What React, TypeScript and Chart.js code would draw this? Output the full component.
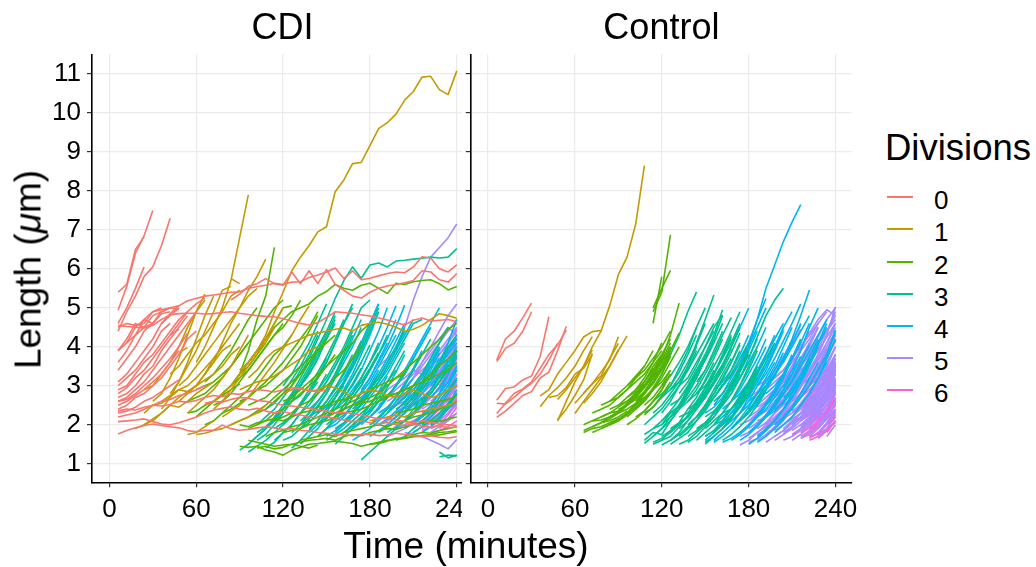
import React, { useEffect, useRef } from "react";
import { Chart, registerables } from "chart.js";

Chart.register(...registerables);

// ---------- scale / label data ----------
const STEP = 6; // minutes between frames
const X_MIN = -12;
const X_MAX = 251;
const Y_MIN = 0.523;
const Y_MAX = 11.505;
const X_TICKS = [0, 60, 120, 180, 240];
const Y_TICKS = [1, 2, 3, 4, 5, 6, 7, 8, 9, 10, 11];
const DIVISIONS = ["0", "1", "2", "3", "4", "5", "6"];
const COLORS = ["#F8766D", "#C49A00", "#53B400", "#00C094", "#00B6EB", "#A58AFF", "#FB61D7"];
const PANELS = ["CDI", "Control"];
const FONT = '"Liberation Sans", Arial, Helvetica, sans-serif';

// Each track: [start time (min), length at start, length 6 min later, ...]
// ---------- CDI ----------
const cdiDiv0: number[][] = [
  [36, 4.6, 4.85, 5.05, 5.18, 5.24, 5.3, 5.33, 5.36, 5.4, 5.41, 5.5, 5.54, 5.58, 5.63, 5.6, 5.66, 5.67, 5.78, 5.84, 5.92, 6.02, 5.75, 5.95, 5.72, 5.76, 5.82, 5.88, 5.92, 5.9, 6.05, 6.31, 6.28, 6.0, 5.92, 6.1],
  [84, 5.2, 5.35, 5.55, 5.62, 5.75, 5.62, 5.58, 5.92, 5.62, 5.95, 5.62, 5.98, 5.6, 5.45, 5.3, 5.25, 5.4, 5.5, 5.56, 5.6, 5.64, 5.7, 5.95, 5.92, 5.72, 5.66, 5.88],
  [6, 4.55, 4.52, 4.5, 4.48, 4.55, 4.7, 4.82, 4.85, 4.86, 4.86, 4.84, 4.85, 4.88, 4.9, 4.86, 4.83, 4.8, 4.78, 4.77, 4.72, 4.66, 4.6, 4.56, 4.62, 4.75, 4.9, 4.88, 4.86, 4.82, 4.79, 4.74, 4.69, 4.62, 4.56, 4.68, 4.74, 4.66, 4.68, 4.7, 4.64],
  [6, 1.76, 1.85, 1.92, 1.98, 2.02, 1.98, 1.95, 1.92, 1.85, 1.82, 1.86, 1.86, 1.99, 1.9, 1.86, 1.88, 1.92, 1.95, 1.92, 1.88, 1.9, 1.86, 1.84, 1.8, 1.78, 1.76, 1.74, 1.72, 1.75, 1.76, 1.72, 1.74, 1.78, 1.75, 1.72, 1.7, 1.72, 1.68, 1.66, 1.69],
  [6, 2.08, 2.1, 2.12, 2.15, 2.08, 2.02, 2.0, 2.05, 2.12, 2.2, 2.3, 2.38, 2.42, 2.46, 2.4, 2.38, 2.42, 2.35, 2.3, 2.34, 2.28, 2.25, 2.2, 2.18, 2.22, 2.15, 2.12, 2.08, 2.1, 2.05, 2.02, 2.06, 2.0, 1.98, 2.02, 1.96, 1.94, 1.98, 1.92, 1.95],
  [6, 2.35, 2.4, 2.38, 2.45, 2.5, 2.48, 2.52, 2.6, 2.58, 2.62, 2.7, 2.75, 2.72, 2.8, 2.78, 2.85, 2.9, 2.88, 2.84, 2.9, 2.95, 2.92, 2.88, 2.85, 2.9],
  [66, 2.55, 2.6, 2.58, 2.65, 2.7, 2.68, 2.62, 2.6, 2.55, 2.5, 2.48, 2.45, 2.42, 2.38, 2.35, 2.3, 2.32, 2.28, 2.25, 2.2, 2.15, 2.18, 2.12, 2.08, 2.05, 2.1, 2.06, 2.02, 2.0, 1.98],
  [6, 4.94, 5.55, 6.4, 6.85, 7.5],
  [6, 5.4, 5.6, 6.5, 6.82],
  [6, 4.4, 4.9, 5.3, 5.8, 6.05, 6.6, 7.3],
  [6, 4.6, 5.0, 5.5, 6.05],
  [6, 3.9, 4.2, 4.6, 4.5, 4.8, 4.9, 5.0],
  [6, 3.6, 3.9, 4.3, 4.7, 4.9, 4.95, 5.0, 5.05],
  [6, 3.4, 3.7, 4.0, 4.4, 4.6, 4.85, 4.9],
  [6, 3.1, 3.3, 3.6, 3.9, 4.2, 4.6, 4.8, 5.0],
  [6, 2.9, 3.0, 3.3, 3.6, 3.8, 4.1, 4.4, 4.7, 4.9],
  [6, 2.7, 2.8, 3.0, 3.3, 3.5, 3.9, 4.2, 4.5, 4.8],
  [6, 2.6, 2.7, 2.9, 3.1, 3.4, 3.7, 4.0, 4.3, 4.6, 4.9],
  [6, 2.5, 2.6, 2.75, 2.9, 3.1, 3.3, 3.6, 3.9],
  [6, 2.4, 2.5, 2.7, 2.8, 3.0, 3.2, 3.5, 3.8, 4.2, 4.4],
  [6, 2.3, 2.35, 2.45, 2.6, 2.7, 2.85, 3.0, 3.15],
  [6, 2.6, 2.65, 2.8, 3.0, 3.2, 3.45, 3.7, 4.0, 4.35],
  [6, 3.0, 3.2, 3.4, 3.7, 4.0, 4.4, 4.6],
  [6, 3.9, 4.1, 4.5, 4.7, 4.6, 4.9, 5.0, 4.95],
  [12, 4.1, 4.3, 4.5, 4.6, 4.9],
  [6, 4.5, 4.6, 4.55, 4.6, 4.9, 5.0],
  [6, 2.8, 2.95, 3.2, 3.4, 3.7, 4.0, 4.3, 4.6, 4.9, 5.1, 5.25],
  [6, 2.2, 2.25, 2.3, 2.4, 2.5, 2.6, 2.65, 2.75, 2.8, 2.9, 3.0],
  [42, 4.3, 4.45],
];
const cdiDiv1: number[][] = [
  [90, 3.4, 3.6, 3.9, 4.3, 4.9, 5.4, 5.95, 6.3, 6.6, 6.95, 7.08, 7.98, 8.28, 8.7, 8.73, 9.16, 9.6, 9.75, 9.97, 10.33, 10.55, 10.92, 10.94, 10.6, 10.47, 11.08],
  [60, 3.6, 4.0, 4.5, 5.0, 5.7, 6.8, 7.9],
  [84, 5.75, 5.62],
  [66, 3.3, 3.6, 4.1, 4.6, 5.0, 5.45, 5.8, 6.25],
  [96, 3.2, 3.4, 3.7, 3.9, 4.0, 4.1, 4.2, 4.3, 4.35, 4.4, 4.45, 4.48, 4.4, 4.55, 4.6, 4.63, 4.58, 4.5, 4.4, 4.45, 4.55, 4.7, 4.85, 4.8, 4.73],
  [18, 1.9, 2.0, 2.15, 2.3, 2.5, 2.7, 2.85, 3.0, 3.3, 3.6, 3.9, 4.05],
  [24, 2.0, 2.1, 2.3, 2.5, 2.45, 2.6, 2.8, 2.95, 3.1],
  [24, 2.3, 2.5, 2.55, 2.7, 2.9, 3.0, 3.2, 3.45, 3.7, 4.0],
  [36, 2.4, 2.7, 3.1, 3.6, 4.2, 4.8, 5.3],
  [30, 2.6, 2.8, 3.2, 3.7, 4.3, 4.9, 5.35],
  [42, 2.8, 3.1, 3.5, 3.9, 4.4, 4.9, 5.45, 5.55],
  [24, 2.9, 3.0, 3.3, 3.6, 4.0, 4.5, 4.9, 5.2],
  [48, 2.6, 2.8, 3.0, 3.3, 3.7, 4.0, 4.3, 4.6],
  [54, 2.3, 2.5, 2.7, 2.9, 3.2, 3.5, 3.9, 4.3],
  [60, 1.75, 1.78, 1.85, 1.9, 2.0, 2.1, 2.2, 2.3, 2.5],
  [54, 1.75, 1.8, 1.95, 2.1],
  [36, 2.6, 2.75, 2.9, 2.85, 3.0, 3.15, 3.3, 3.5, 3.8, 4.0],
  [66, 2.5, 2.6, 2.8, 3.0, 3.3, 3.6, 3.9, 4.1, 4.5],
  [72, 2.4, 2.6, 2.9, 3.2, 3.5, 3.8, 4.2, 4.6, 5.0],
  [78, 2.2, 2.35, 2.5, 2.7, 3.0, 3.3, 3.6, 3.95, 4.3, 4.7, 5.05],
  [90, 2.9, 3.0, 3.1, 3.15, 3.25, 3.4, 3.55, 3.7, 3.9, 4.0],
  [120, 2.8, 2.9, 2.95, 2.85, 2.9, 3.0, 2.95, 2.85, 2.7, 2.8, 2.9, 2.85, 2.75, 2.7, 2.8, 2.9, 2.8, 2.7, 2.75, 2.9, 3.0],
  [180, 2.1, 2.15, 2.2, 2.25, 2.2, 2.3, 2.35, 2.4, 2.45, 2.5, 2.6],
  [42, 3.3, 3.5, 3.8, 4.1, 4.3, 4.6, 4.9, 5.3, 5.45],
  [48, 3.85, 3.98],
  [48, 3.0, 3.2, 3.5, 3.8, 4.1, 4.4, 4.7, 5.0, 5.3, 5.5],
];
const cdiDiv2: number[][] = [
  [90, 3.3, 3.9, 4.7, 5.3, 6.55],
  [96, 3.6, 3.9, 4.2, 4.5, 4.7, 4.9, 5.0, 5.1, 5.3, 5.42, 5.6, 5.5, 5.45, 5.58, 5.63, 5.5, 5.37, 5.63, 5.6, 5.67, 5.7, 5.72, 5.62, 5.46, 5.55],
  [90, 1.45, 1.42, 1.45, 1.35, 1.3, 1.22, 1.35, 1.42, 1.5, 1.52, 1.55, 1.58, 1.55, 1.52, 1.45, 1.5, 1.52, 1.58, 1.65, 1.66, 1.69, 1.7, 1.72, 1.74, 1.78, 1.82],
  [96, 1.6, 1.55, 1.5, 1.45, 1.48, 1.5, 1.55, 1.6, 1.62, 1.65, 1.6, 1.7, 1.75, 1.72, 1.8, 1.85, 1.9, 1.88, 1.95, 2.0, 2.05, 2.1, 2.08, 2.15, 2.2],
  [102, 1.4, 1.45, 1.38, 1.42, 1.5, 1.45, 1.4, 1.48],
  [54, 2.6, 2.7, 2.8, 3.0, 3.2, 3.5, 3.8, 4.1],
  [60, 2.2, 2.4, 2.6, 2.8, 3.0, 3.3, 3.5, 3.8, 4.1],
  [66, 2.0, 2.1, 2.3, 2.5, 2.7, 2.9, 3.2, 3.5, 3.8, 4.0, 4.3],
  [72, 2.5, 2.6, 2.8, 3.1, 3.4, 3.7, 4.0, 4.3, 4.6],
  [78, 2.3, 2.4, 2.55, 2.7, 2.9, 3.1, 3.35, 3.6, 3.9, 4.2, 4.5, 4.9],
  [84, 2.0, 2.1, 2.2, 2.35, 2.5, 2.7, 2.9, 3.1, 3.3, 3.6],
  [90, 2.6, 2.7, 2.9, 3.0, 3.2, 3.4, 3.7, 4.0, 4.4, 4.8],
  [96, 1.9, 2.0, 2.1, 2.3, 2.4, 2.6, 2.8, 3.0, 3.2, 3.5, 3.8],
  [102, 2.3, 2.4, 2.6, 2.8, 3.0, 3.3, 3.6, 3.9, 4.2],
  [108, 1.7, 1.8, 1.85, 1.95, 2.0, 2.1, 2.2, 2.3, 2.4, 2.5, 2.6, 2.7],
  [114, 2.1, 2.2, 2.3, 2.5, 2.6, 2.8, 3.0, 3.2, 3.4, 3.7, 4.0],
  [120, 1.8, 1.85, 1.9, 2.0, 2.05, 2.1, 2.2, 2.3, 2.35, 2.4, 2.5, 2.6, 2.7, 2.8, 2.9, 3.0, 3.1, 3.3, 3.5, 3.7, 3.9],
  [60, 2.9, 3.0, 3.1, 3.3, 3.5, 3.8, 4.1, 4.4, 4.7, 5.0, 5.2],
  [66, 3.1, 3.3, 3.6, 3.9, 4.3, 4.7, 5.0],
  [78, 2.8, 3.0, 3.3, 3.6, 3.9, 4.2, 4.6, 5.0, 5.05],
  [150, 2.2, 2.3, 2.4, 2.5, 2.55, 2.6, 2.7, 2.75, 2.8, 2.9, 3.0, 3.1, 3.2, 3.3, 3.4, 3.6],
  [162, 2.4, 2.5, 2.6, 2.7, 2.8, 3.0, 3.2, 3.4, 3.6, 3.8, 4.0, 4.2, 4.45, 4.6],
  [132, 1.6, 1.65, 1.7, 1.75, 1.7, 1.8, 1.85, 1.9, 1.95, 2.0, 1.95, 2.05, 2.1, 2.2, 2.25, 2.3, 2.4, 2.5, 2.6],
  [90, 2.0, 1.95, 2.05, 2.1, 2.15, 2.1, 2.2, 2.3, 2.35, 2.45, 2.5, 2.6, 2.65, 2.7, 2.8, 2.9, 3.0, 3.1, 3.2, 3.3],
  [180, 1.5, 1.55, 1.6, 1.62, 1.65, 1.7, 1.72, 1.75, 1.8, 1.82, 1.85],
  [54, 2.3, 2.35, 2.5, 2.6, 2.75, 2.9, 3.05],
  [84, 3.0, 3.2, 3.4, 3.7, 4.0, 4.3, 4.5, 4.8, 5.2],
  [96, 2.5, 2.6, 2.7, 2.9, 3.1, 3.3, 3.5, 3.7, 3.9, 4.1, 4.3],
  [120, 2.6, 2.7, 2.9, 3.1, 3.3, 3.5, 3.7, 3.9, 4.1, 4.4, 4.6],
  [198, 2.3, 2.35, 2.4, 2.5, 2.55, 2.6, 2.65, 2.75],
  [204, 1.7, 1.75, 1.8, 1.78, 1.85, 1.9, 1.95],
];
const cdiDiv3: number[][] = [
  [132, 3.3, 3.7, 4.2, 4.7, 5.24, 5.7, 6.05, 5.76, 6.1, 6.15, 6.05, 6.2, 6.22, 6.25, 6.27, 6.3, 6.28, 6.3, 6.52],
  [90, 1.35, 1.5, 1.7, 1.9, 2.1, 2.4, 2.7, 3.0, 3.3, 3.7],
  [96, 1.5, 1.7, 1.9, 2.2, 2.5, 2.8, 3.2, 3.6, 4.0, 4.4],
  [102, 1.6, 1.75, 2.0, 2.3, 2.6, 3.0, 3.4, 3.9, 4.4, 4.9],
  [108, 1.9, 2.1, 2.3, 2.6, 3.0, 3.3, 3.7, 4.2, 4.6],
  [108, 1.4, 1.55, 1.8, 2.0, 2.3, 2.6, 2.9, 3.3],
  [114, 2.2, 2.4, 2.7, 3.0, 3.4, 3.8, 4.3, 4.8],
  [114, 1.6, 1.8, 2.0, 2.3, 2.5, 2.8, 3.1, 3.5, 3.9],
  [120, 2.0, 2.2, 2.5, 2.8, 3.2, 3.6, 4.1, 4.6, 5.1],
  [120, 2.5, 2.7, 3.0, 3.3, 3.7, 4.2, 4.7],
  [126, 1.8, 2.0, 2.3, 2.6, 2.9, 3.3, 3.7, 4.1],
  [126, 2.3, 2.5, 2.8, 3.2, 3.6, 4.1, 4.6, 5.0],
  [132, 1.5, 1.7, 1.9, 2.2, 2.5, 2.8, 3.2, 3.6],
  [132, 2.1, 2.3, 2.6, 2.9, 3.3, 3.8, 4.3],
  [138, 1.9, 2.1, 2.4, 2.7, 3.1, 3.5, 3.9, 4.4, 4.9],
  [138, 2.6, 2.8, 3.1, 3.5, 3.9, 4.4],
  [144, 1.7, 1.9, 2.2, 2.5, 2.8, 3.2, 3.6, 4.0],
  [144, 2.3, 2.5, 2.8, 3.1, 3.5, 4.0, 4.5, 5.0],
  [150, 2.0, 2.2, 2.5, 2.8, 3.2, 3.6, 4.1],
  [150, 1.6, 1.75, 1.9, 2.1, 2.3, 2.5, 2.8, 3.1, 3.4],
  [156, 2.2, 2.4, 2.7, 3.0, 3.4, 3.8, 4.3],
  [162, 1.8, 2.0, 2.2, 2.5, 2.8, 3.1, 3.5, 3.9],
  [168, 2.4, 2.6, 2.9, 3.2, 3.6, 4.0, 4.5],
  [174, 1.1, 1.3, 1.5, 1.7, 1.9, 2.1, 2.4, 2.7],
  [180, 2.0, 2.2, 2.4, 2.7, 3.0, 3.4, 3.8, 4.2],
  [186, 1.8, 1.95, 2.1, 2.3, 2.6, 2.9, 3.2, 3.6, 4.0],
  [192, 2.3, 2.5, 2.7, 3.0, 3.3, 3.7, 4.1, 4.5],
  [198, 1.6, 1.7, 1.9, 2.1, 2.3, 2.6, 2.9, 3.2],
  [204, 2.1, 2.3, 2.5, 2.8, 3.1, 3.5, 3.9],
  [210, 1.8, 1.95, 2.1, 2.3, 2.55, 2.8],
  [228, 1.3, 1.15, 1.22],
  [228, 1.18, 1.22, 1.2],
  [216, 2.6, 2.8, 3.1, 3.4, 3.8],
  [102, 2.0, 2.2, 2.4, 2.7, 3.0, 3.4, 3.8, 4.3],
  [96, 1.3, 1.45, 1.6, 1.8, 2.0, 2.25, 2.5, 2.8, 3.1],
  [126, 1.4, 1.6, 1.85, 2.1, 2.4, 2.7, 3.0],
  [156, 1.5, 1.7, 1.9, 2.1, 2.3, 2.6, 2.9],
  [174, 2.6, 2.8, 3.1, 3.4, 3.8, 4.2, 4.6, 4.7],
  [204, 2.5, 2.7, 3.0, 3.3, 3.6, 4.0, 4.3],
  [120, 3.0, 3.3, 3.7, 4.1, 4.6, 5.1],
  [144, 2.9, 3.2, 3.6, 4.0, 4.5, 5.0, 5.2],
  [102, 1.8, 1.95, 2.15, 2.4, 2.75, 3.1, 3.5, 3.95],
  [108, 2.4, 2.55, 2.8, 3.15, 3.5, 3.95, 4.4],
  [114, 1.9, 2.05, 2.25, 2.55, 2.9, 3.25, 3.7],
  [120, 1.6, 1.7, 1.9, 2.15, 2.45, 2.8, 3.2, 3.6],
  [126, 2.6, 2.75, 3.0, 3.35, 3.75, 4.2, 4.7],
  [132, 1.9, 2.05, 2.3, 2.6, 2.95, 3.35, 3.8],
  [138, 2.2, 2.35, 2.6, 2.95, 3.3, 3.7, 4.15],
  [144, 2.0, 2.15, 2.4, 2.7, 3.05, 3.45],
  [150, 2.4, 2.55, 2.85, 3.2, 3.6, 4.05],
  [156, 1.9, 2.05, 2.25, 2.55, 2.9, 3.3],
  [162, 2.6, 2.8, 3.1, 3.45, 3.85],
  [168, 2.0, 2.15, 2.4, 2.7, 3.05],
  [186, 2.6, 2.75, 3.0, 3.3, 3.7],
  [198, 2.4, 2.55, 2.8, 3.1, 3.5],
  [210, 2.5, 2.65, 2.9, 3.2, 3.55],
  [222, 2.0, 2.2, 2.45, 2.8],
];
const cdiDiv4: number[][] = [
  [138, 1.8, 2.0, 2.3, 2.7, 3.1, 3.6, 4.1, 4.6, 5.1],
  [144, 2.0, 2.2, 2.5, 2.9, 3.3, 3.8, 4.3, 4.9],
  [144, 1.7, 1.9, 2.1, 2.4, 2.7, 3.0, 3.4, 3.8],
  [150, 2.2, 2.4, 2.7, 3.0, 3.4, 3.9, 4.4, 5.0],
  [150, 1.9, 2.0, 2.2, 2.5, 2.8, 3.1, 3.5, 3.9, 4.3],
  [156, 2.4, 2.6, 2.9, 3.2, 3.6, 4.0, 4.5, 5.05],
  [156, 1.8, 2.0, 2.2, 2.4, 2.7, 3.0, 3.3, 3.7, 4.1],
  [162, 2.1, 2.3, 2.5, 2.8, 3.1, 3.5, 3.9, 4.3, 4.7],
  [162, 2.6, 2.8, 3.1, 3.4, 3.8, 4.2, 4.7],
  [168, 1.9, 2.05, 2.2, 2.45, 2.7, 3.0, 3.3, 3.7, 4.1],
  [168, 2.3, 2.5, 2.8, 3.1, 3.5, 3.9, 4.4],
  [174, 2.0, 2.2, 2.4, 2.7, 3.0, 3.4, 3.8, 4.2, 4.6, 5.0],
  [174, 2.7, 2.9, 3.2, 3.6, 4.0, 4.4],
  [180, 1.7, 1.85, 2.0, 2.2, 2.45, 2.7, 3.0, 3.3, 3.7],
  [180, 2.2, 2.4, 2.7, 3.0, 3.3, 3.7, 4.1, 4.5],
  [186, 2.0, 2.15, 2.35, 2.6, 2.9, 3.2, 3.6, 4.0],
  [186, 2.5, 2.7, 3.0, 3.3, 3.7, 4.1, 4.5],
  [192, 1.8, 1.95, 2.1, 2.3, 2.55, 2.8, 3.1, 3.5, 3.9],
  [192, 2.3, 2.5, 2.7, 3.0, 3.3, 3.7, 4.1, 4.5],
  [198, 2.1, 2.3, 2.5, 2.8, 3.1, 3.5, 3.9, 4.2],
  [198, 2.6, 2.8, 3.0, 3.3, 3.6, 4.0],
  [204, 1.9, 2.05, 2.25, 2.5, 2.8, 3.1, 3.5],
  [204, 2.4, 2.6, 2.9, 3.2, 3.6, 4.0, 4.2],
  [210, 2.0, 2.2, 2.4, 2.7, 3.0, 3.4],
  [210, 2.7, 2.9, 3.2, 3.5, 3.8, 4.1],
  [216, 2.2, 2.4, 2.7, 3.0, 3.4],
  [216, 1.8, 1.95, 2.15, 2.4, 2.6],
  [222, 2.5, 2.8, 3.1, 3.5],
  [222, 3.0, 3.3, 3.6, 4.0],
  [132, 2.0, 2.2, 2.5, 2.8, 3.2, 3.6, 4.0, 4.5],
  [138, 2.4, 2.6, 2.9, 3.3, 3.7, 4.2, 4.7],
  [150, 2.6, 2.9, 3.2, 3.6, 4.1, 4.6, 5.1],
  [168, 1.6, 1.75, 1.9, 2.1, 2.3, 2.6, 2.9, 3.2],
  [174, 2.9, 3.2, 3.6, 4.0, 4.5, 5.07],
  [228, 2.8, 3.3, 3.9],
  [222, 3.2, 3.6, 4.1, 4.7],
  [144, 2.3, 2.45, 2.7, 3.05, 3.45, 3.9, 4.4],
  [150, 1.7, 1.85, 2.05, 2.3, 2.65, 3.0, 3.4],
  [156, 2.1, 2.25, 2.5, 2.85, 3.2, 3.65, 4.1],
  [162, 1.8, 1.95, 2.2, 2.5, 2.85, 3.25],
  [168, 2.5, 2.65, 2.95, 3.3, 3.7, 4.15, 4.6],
  [174, 2.2, 2.35, 2.6, 2.95, 3.35, 3.8],
  [180, 2.0, 2.15, 2.4, 2.7, 3.05, 3.45, 3.9],
  [186, 2.3, 2.45, 2.7, 3.05, 3.4, 3.85],
  [192, 2.0, 2.2, 2.45, 2.75, 3.1, 3.5, 3.95],
  [198, 2.3, 2.45, 2.7, 3.0, 3.4, 3.85],
  [204, 2.1, 2.3, 2.55, 2.9, 3.25, 3.65],
  [210, 2.4, 2.6, 2.9, 3.25, 3.65],
  [216, 2.0, 2.2, 2.45, 2.8, 3.15],
  [222, 2.7, 2.95, 3.3, 3.75],
  [228, 2.2, 2.5, 2.9],
];
const cdiDiv5: number[][] = [
  [186, 3.5, 3.7, 3.9, 4.5, 5.2, 5.8, 6.3, 6.55, 6.8, 7.15],
  [198, 2.6, 2.9, 3.2, 3.6, 4.0, 4.4, 4.8, 5.1],
  [186, 2.0, 2.1, 2.3, 2.5, 2.7, 2.9, 3.2, 3.5, 3.8, 4.1],
  [192, 2.4, 2.5, 2.7, 2.9, 3.1, 3.3, 3.6, 3.9, 4.2],
  [192, 1.7, 1.8, 1.9, 2.05, 2.2, 2.35, 2.5, 2.7, 2.9],
  [198, 2.2, 2.35, 2.5, 2.7, 2.9, 3.1, 3.4, 3.7],
  [204, 2.8, 3.0, 3.2, 3.5, 3.8, 4.1, 4.4],
  [204, 2.0, 2.1, 2.25, 2.4, 2.6, 2.8, 3.0],
  [204, 1.8, 1.75, 1.7, 1.6, 1.5, 1.38, 1.62],
  [210, 2.3, 2.5, 2.7, 2.9, 3.2, 3.5],
  [210, 2.6, 2.8, 3.0, 3.3, 3.6, 3.9],
  [216, 2.0, 2.15, 2.3, 2.5, 2.75],
  [216, 2.9, 3.1, 3.4, 3.7, 4.0],
  [222, 2.3, 2.5, 2.8, 3.1],
  [222, 1.8, 1.95, 2.1, 2.3],
  [198, 1.9, 2.0, 2.1, 2.2, 2.35, 2.5, 2.6, 2.8],
  [228, 2.6, 2.9, 3.3],
  [186, 2.6, 2.7, 2.9, 3.1, 3.3, 3.6, 3.9, 4.2, 4.5, 4.3],
  [192, 2.9, 3.05, 3.2, 3.4, 3.3, 3.5, 3.7, 3.9, 4.1],
  [210, 3.2, 3.4, 3.6, 3.9, 4.2, 4.5],
  [192, 2.1, 2.2, 2.35, 2.55, 2.8, 3.05, 3.35, 3.65, 3.95],
  [198, 2.5, 2.6, 2.8, 3.05, 3.3, 3.6, 3.95, 4.3],
  [204, 2.2, 2.3, 2.5, 2.7, 2.95, 3.25, 3.55],
  [210, 1.9, 2.05, 2.25, 2.5, 2.75, 3.05],
  [210, 2.8, 2.95, 3.2, 3.5, 3.85, 4.2],
  [216, 2.4, 2.55, 2.8, 3.1, 3.45],
  [222, 2.1, 2.3, 2.55, 2.85],
  [222, 3.2, 3.4, 3.7, 4.05],
  [228, 2.0, 2.25, 2.55],
  [228, 2.9, 3.2, 3.55],
  [186, 2.3, 2.4, 2.55, 2.75, 3.0, 3.25, 3.5, 3.8, 4.1, 4.45],
  [204, 1.7, 1.8, 1.95, 2.1, 2.3, 2.5, 2.75],
  [192, 2.6, 2.75, 2.95, 3.2, 3.5, 3.8, 4.1, 4.4, 4.7],
  [204, 2.5, 2.65, 2.9, 3.2, 3.55, 3.9, 4.25],
  [216, 1.9, 2.05, 2.25, 2.5, 2.8],
  [222, 2.6, 2.8, 3.1, 3.45],
  [198, 2.0, 2.1, 2.25, 2.45, 2.7, 2.95, 3.25, 3.55],
];
const cdiDiv6: number[][] = [
  [216, 2.0, 2.2, 2.4, 2.7, 3.0],
  [222, 2.4, 2.6, 2.9, 3.3],
  [222, 1.9, 2.0, 2.15, 2.3],
  [228, 2.8, 3.2, 3.7],
  [216, 2.6, 2.8, 3.1, 3.4, 3.8],
  [228, 2.2, 2.4, 2.7],
  [234, 3.2, 3.5],
  [222, 1.8, 1.85, 1.95, 2.1],
  [228, 2.5, 2.75, 3.0],
  [216, 2.3, 2.45, 2.6, 2.85, 3.1],
  [216, 2.1, 2.3, 2.55, 2.85, 3.2],
  [222, 2.2, 2.4, 2.7, 3.05],
  [228, 1.9, 2.15, 2.45],
  [222, 2.7, 2.95, 3.3, 3.7],
  [234, 2.3, 2.6],
  [228, 3.0, 3.35, 3.9],
  [216, 2.5, 2.7, 2.95, 3.25, 3.6],
  [222, 2.0, 2.15, 2.4, 2.65],
  [228, 2.4, 2.65, 3.0],
  [216, 1.85, 1.95, 2.1, 2.3, 2.5],
  [234, 2.8, 3.2],
];

// ---------- Control ----------
const ctlDiv0: number[][] = [
  [6, 3.66, 4.2, 4.4, 4.75, 5.12],
  [6, 3.62, 3.96, 4.09, 4.4, 4.9],
  [6, 2.63, 2.93, 2.97, 3.15, 3.25, 3.75, 4.77],
  [6, 2.19, 2.35, 2.55, 2.75, 2.85, 3.2, 3.35, 3.9, 4.52],
  [6, 2.29, 2.55, 2.8, 2.92, 3.1, 3.45, 3.8, 4.05, 4.43],
  [6, 2.55, 2.53, 2.7, 2.9, 3.06, 3.3, 3.66, 4.09],
];
const ctlDiv1: number[][] = [
  [48, 2.1, 2.6, 3.1, 3.5, 4.0, 4.4, 5.05, 5.85, 6.3, 7.15, 8.65],
  [36, 2.74, 2.9, 3.3, 3.6, 3.9, 4.25, 4.39, 4.42],
  [36, 2.46, 2.75, 2.95, 3.2, 3.5, 3.9, 4.26],
  [48, 2.12, 2.4, 2.75, 3.15, 3.83],
  [48, 2.65, 2.9, 3.2, 3.5, 3.92],
  [60, 2.55, 2.8, 3.05, 3.35, 3.66, 4.26],
  [60, 2.29, 2.6, 2.9, 3.2, 3.5, 3.9, 4.28],
  [66, 2.55, 2.8, 3.1, 3.5, 3.92],
  [66, 2.81, 3.05, 3.25, 3.7, 4.09],
  [42, 2.7, 2.75, 2.95, 3.3, 3.45, 3.8],
];
const ctlDiv2: number[][] = [
  [114, 4.6, 5.8],
  [114, 4.9, 5.4, 6.87],
  [114, 5.0, 5.5, 5.96],
  [66, 1.85, 1.95, 2.05, 2.1, 2.2, 2.35],
  [66, 2.0, 2.1, 2.12, 2.2, 2.3],
  [72, 1.8, 1.9, 2.0, 2.1, 2.25, 2.45, 2.7],
  [72, 2.1, 2.2, 2.3, 2.35, 2.5, 2.7, 3.0, 3.3],
  [78, 1.9, 2.0, 2.15, 2.3, 2.5, 2.8, 3.1, 3.5],
  [78, 2.2, 2.3, 2.45, 2.6, 2.8, 3.1, 3.5, 3.8],
  [84, 2.0, 2.1, 2.3, 2.5, 2.8, 3.1, 3.5, 4.0],
  [84, 2.4, 2.5, 2.7, 2.9, 3.2, 3.6, 4.1],
  [90, 2.1, 2.3, 2.55, 2.85, 3.2, 3.65, 4.1],
  [90, 2.5, 2.6, 2.8, 3.0, 3.3, 3.6],
  [96, 2.2, 2.4, 2.6, 2.9, 3.2, 3.6, 4.0],
  [96, 2.7, 2.85, 3.0, 3.2, 3.5, 3.9],
  [102, 2.4, 2.65, 2.95, 3.3, 3.75],
  [102, 2.9, 3.1, 3.4, 3.8, 4.2],
  [90, 2.3, 2.4, 2.55, 2.7, 2.9, 3.1, 3.4],
  [84, 2.6, 2.7, 2.9, 3.1, 3.3, 3.6, 3.9],
  [96, 3.0, 3.2, 3.4, 3.7, 4.0, 4.4],
  [108, 3.0, 3.3, 3.7, 4.3, 5.12],
  [108, 2.8, 3.1, 3.5, 3.9, 4.35],
  [72, 2.3, 2.4, 2.5, 2.7, 2.9, 3.2, 3.5, 3.9],
  [72, 1.95, 2.05, 2.15, 2.3, 2.5, 2.75, 3.05],
  [78, 2.05, 2.2, 2.35, 2.55, 2.8, 3.1, 3.45],
  [84, 2.2, 2.3, 2.5, 2.75, 3.0, 3.35, 3.75],
  [90, 2.4, 2.5, 2.7, 2.95, 3.25, 3.6, 4.0],
  [96, 2.5, 2.65, 2.85, 3.1, 3.45, 3.85],
  [96, 2.0, 2.15, 2.35, 2.6, 2.9, 3.3],
  [102, 2.6, 2.8, 3.05, 3.4, 3.8],
  [102, 2.2, 2.35, 2.6, 2.9, 3.3],
  [108, 2.5, 2.7, 3.0, 3.4],
  [108, 2.25, 2.45, 2.75, 3.1],
  [78, 2.5, 2.6, 2.8, 3.0, 3.25, 3.5],
  [66, 1.8, 1.9, 1.95, 2.05, 2.15],
];
const ctlDiv3: number[][] = [
  [108, 1.52, 1.7, 1.9, 2.2, 2.5, 2.9, 3.3, 3.8],
  [108, 2.0, 2.2, 2.4, 2.7, 3.0, 3.4, 3.9],
  [114, 1.7, 1.9, 2.1, 2.4, 2.8, 3.2, 3.7, 4.2],
  [114, 2.3, 2.5, 2.8, 3.1, 3.5, 4.0],
  [120, 1.48, 1.6, 1.8, 2.1, 2.4, 2.8, 3.3, 3.8, 4.3],
  [120, 2.0, 2.2, 2.5, 2.8, 3.2, 3.7, 4.2, 4.8],
  [108, 2.6, 2.9, 3.3, 3.8, 4.3, 4.9, 5.41],
  [120, 2.3, 2.6, 3.0, 3.5, 4.1, 4.7, 5.33],
  [126, 1.6, 1.75, 1.95, 2.2, 2.5, 2.9, 3.3, 3.7],
  [126, 2.2, 2.4, 2.7, 3.0, 3.4, 3.9, 4.4],
  [132, 1.9, 2.1, 2.4, 2.7, 3.1, 3.5, 4.0, 4.5],
  [132, 2.4, 2.6, 2.9, 3.3, 3.7, 4.2],
  [138, 1.7, 1.85, 2.05, 2.3, 2.6, 3.0, 3.4, 3.9],
  [132, 2.8, 3.1, 3.5, 4.0, 4.5, 4.82],
  [144, 1.6, 1.8, 2.0, 2.3, 2.6, 3.0, 3.5, 4.0],
  [144, 2.2, 2.4, 2.7, 3.0, 3.4, 3.9],
  [150, 1.9, 2.1, 2.3, 2.6, 3.0, 3.4, 3.9],
  [150, 2.5, 2.7, 3.0, 3.3, 3.7, 4.1],
  [156, 1.8, 2.0, 2.2, 2.5, 2.9, 3.3],
  [156, 2.3, 2.5, 2.8, 3.2, 3.6],
  [162, 2.0, 2.2, 2.5, 2.8, 3.2],
  [114, 1.55, 1.65, 1.8, 2.0, 2.2, 2.5, 2.8, 3.1, 3.5],
  [108, 1.75, 1.9, 2.1, 2.35, 2.65, 3.0, 3.4],
  [132, 1.5, 1.6, 1.8, 2.0, 2.3, 2.6, 3.0, 3.4, 3.8],
  [138, 2.6, 2.8, 3.1, 3.5, 3.9, 4.4, 4.9],
  [126, 2.9, 3.1, 3.4, 3.8, 4.2, 4.6],
  [144, 2.8, 3.0, 3.3, 3.7, 4.1, 4.6],
  [168, 2.4, 2.6, 2.9, 3.3, 3.7, 4.1],
  [180, 3.7, 4.26, 4.8, 5.2, 5.5],
  [120, 1.7, 1.85, 2.0, 2.2, 2.45, 2.75, 3.1, 3.5, 3.95],
  [150, 1.55, 1.7, 1.9, 2.15, 2.45, 2.8, 3.2],
  [162, 1.6, 1.75, 1.95, 2.2, 2.5, 2.85],
  [108, 1.6, 1.8, 1.75, 2.1, 2.4, 2.8, 3.2, 3.7],
  [108, 2.3, 2.45, 2.7, 3.0, 3.35, 3.8, 4.3],
  [114, 1.9, 2.0, 2.3, 2.5, 2.9, 3.4, 3.8],
  [114, 2.6, 2.8, 3.0, 3.45, 3.9, 4.5],
  [114, 1.5, 1.6, 1.85, 2.05, 2.4, 2.7, 3.15, 3.6],
  [120, 2.1, 2.3, 2.45, 2.9, 3.3, 3.65, 4.1, 4.6],
  [120, 1.6, 1.7, 1.95, 2.25, 2.5, 2.95, 3.4],
  [120, 2.7, 2.9, 3.2, 3.6, 4.05, 4.6],
  [126, 1.9, 2.05, 2.2, 2.55, 2.85, 3.3, 3.75, 4.25],
  [126, 2.5, 2.65, 2.95, 3.3, 3.8, 4.3, 4.95],
  [126, 1.5, 1.65, 1.8, 2.1, 2.35, 2.7, 3.05],
  [132, 2.2, 2.3, 2.6, 2.95, 3.3, 3.75, 4.2],
  [132, 1.7, 1.9, 2.1, 2.45, 2.8, 3.2, 3.6, 4.1],
  [132, 3.0, 3.2, 3.6, 4.0, 4.4],
  [138, 2.0, 2.2, 2.5, 2.8, 3.15, 3.6, 4.05],
  [138, 2.4, 2.55, 2.85, 3.2, 3.55, 4.0, 4.5],
  [138, 1.55, 1.7, 1.95, 2.2, 2.55, 2.9, 3.3],
  [144, 1.9, 2.05, 2.3, 2.65, 3.0, 3.45, 3.9],
  [144, 2.5, 2.7, 3.05, 3.4, 3.85, 4.35],
  [150, 2.2, 2.35, 2.6, 2.95, 3.35, 3.8],
  [150, 1.7, 1.85, 2.1, 2.4, 2.7, 3.1, 3.5],
  [156, 2.0, 2.1, 2.4, 2.7, 3.05, 3.5],
  [156, 2.6, 2.8, 3.1, 3.5, 3.9],
  [162, 2.3, 2.4, 2.7, 3.0, 3.4],
  [168, 1.9, 2.1, 2.35, 2.7, 3.0],
  [120, 3.0, 3.25, 3.6, 4.0, 4.5, 5.0],
  [144, 3.1, 3.4, 3.8, 4.3, 4.75],
];
const ctlDiv4: number[][] = [
  [168, 3.0, 3.5, 4.0, 4.7, 5.5, 6.1, 6.7, 7.2, 7.65],
  [150, 1.5, 1.7, 1.9, 2.2, 2.5, 2.9, 3.3, 3.8],
  [150, 2.0, 2.2, 2.5, 2.8, 3.2, 3.7, 4.2],
  [156, 1.6, 1.8, 2.0, 2.3, 2.7, 3.1, 3.6, 4.1],
  [144, 2.4, 2.7, 3.1, 3.5, 4.0, 4.5, 4.99],
  [162, 1.9, 2.1, 2.3, 2.6, 3.0, 3.4, 3.9, 4.4],
  [162, 2.4, 2.6, 2.9, 3.3, 3.7, 4.2],
  [168, 1.6, 1.75, 1.95, 2.2, 2.5, 2.9, 3.3, 3.8],
  [156, 2.5, 2.8, 3.2, 3.6, 4.1, 4.7, 5.24],
  [174, 1.8, 2.0, 2.2, 2.5, 2.8, 3.2, 3.7, 4.2],
  [174, 2.3, 2.5, 2.8, 3.1, 3.5, 4.0, 4.5],
  [180, 1.5, 1.65, 1.85, 2.1, 2.4, 2.8, 3.2, 3.7],
  [180, 2.0, 2.2, 2.5, 2.8, 3.2, 3.7, 4.2],
  [186, 1.7, 1.9, 2.1, 2.4, 2.7, 3.1, 3.5, 4.0],
  [186, 2.2, 2.4, 2.7, 3.0, 3.4, 3.9, 4.5, 5.0],
  [192, 1.9, 2.1, 2.4, 2.7, 3.1, 3.6, 4.1, 4.6],
  [186, 2.6, 2.9, 3.3, 3.7, 4.2, 4.8, 5.46],
  [198, 1.8, 2.0, 2.2, 2.5, 2.8, 3.2, 3.6],
  [204, 2.2, 2.4, 2.7, 3.0, 3.4, 3.8, 4.43],
  [150, 1.7, 1.85, 2.05, 2.3, 2.6, 3.0, 3.4],
  [162, 1.55, 1.65, 1.8, 2.0, 2.25, 2.55, 2.9, 3.3],
  [174, 2.7, 2.9, 3.2, 3.6, 4.0, 4.5, 4.9],
  [198, 2.6, 2.8, 3.1, 3.5, 3.9, 4.3, 4.7],
  [222, 2.8, 3.2, 3.7, 4.2],
  [168, 2.6, 2.8, 3.1, 3.4, 3.8, 4.2, 4.6],
  [180, 2.6, 2.8, 3.0, 3.3, 3.6, 4.0, 4.4, 4.8],
  [228, 3.4, 3.8, 4.4],
  [156, 2.9, 3.1, 3.4, 3.8, 4.3],
  [150, 2.3, 2.45, 2.7, 3.05, 3.4, 3.9, 4.4],
  [150, 1.6, 1.8, 2.0, 2.3, 2.55, 2.95, 3.35],
  [156, 2.0, 2.2, 2.4, 2.75, 3.1, 3.55, 4.0],
  [156, 1.55, 1.7, 1.9, 2.15, 2.45, 2.8, 3.2, 3.6],
  [162, 2.2, 2.4, 2.65, 3.0, 3.35, 3.8, 4.3],
  [162, 2.7, 2.9, 3.2, 3.6, 4.0, 4.5],
  [168, 1.9, 2.1, 2.35, 2.65, 3.0, 3.4, 3.85],
  [168, 2.3, 2.45, 2.75, 3.1, 3.5, 3.95, 4.45],
  [174, 1.6, 1.75, 1.95, 2.2, 2.5, 2.9, 3.3],
  [174, 2.1, 2.3, 2.55, 2.9, 3.25, 3.7, 4.1],
  [180, 1.8, 2.0, 2.25, 2.55, 2.9, 3.3, 3.75],
  [180, 2.4, 2.6, 2.9, 3.25, 3.65, 4.1, 4.6],
  [186, 1.55, 1.7, 1.9, 2.15, 2.45, 2.8, 3.2],
  [186, 2.0, 2.2, 2.45, 2.8, 3.15, 3.6, 4.05],
  [192, 2.2, 2.35, 2.6, 2.95, 3.3, 3.75, 4.2],
  [192, 2.8, 3.0, 3.3, 3.7, 4.1, 4.6],
  [198, 2.0, 2.2, 2.45, 2.8, 3.2, 3.6],
  [198, 2.4, 2.55, 2.85, 3.2, 3.6, 4.05, 4.5],
  [204, 2.7, 2.9, 3.2, 3.6, 4.05],
  [162, 3.0, 3.25, 3.6, 4.0, 4.5, 5.0],
  [186, 3.0, 3.3, 3.7, 4.15, 4.6, 5.1],
];
const ctlDiv5: number[][] = [
  [174, 1.48, 1.6, 1.8, 2.0, 2.3, 2.6, 3.0, 3.4],
  [180, 1.9, 2.05, 2.25, 2.5, 2.8, 3.2, 3.6, 4.1],
  [186, 2.2, 2.35, 2.6, 2.9, 3.2, 3.6, 4.0, 4.5],
  [186, 1.6, 1.75, 1.95, 2.2, 2.5, 2.8, 3.2],
  [192, 2.0, 2.2, 2.4, 2.7, 3.0, 3.4, 3.8, 4.3],
  [192, 2.5, 2.7, 2.9, 3.2, 3.5, 3.9, 4.3],
  [198, 1.7, 1.85, 2.05, 2.3, 2.6, 2.9, 3.3, 3.7],
  [198, 2.3, 2.5, 2.7, 3.0, 3.3, 3.7, 4.1, 4.6],
  [204, 1.9, 2.1, 2.3, 2.6, 2.9, 3.3, 3.7],
  [204, 2.6, 2.8, 3.1, 3.4, 3.8, 4.3, 5.03],
  [210, 1.6, 1.75, 1.95, 2.2, 2.5, 2.85],
  [210, 2.2, 2.4, 2.7, 3.0, 3.4, 3.8],
  [216, 1.9, 2.1, 2.35, 2.65, 3.0],
  [216, 2.5, 2.75, 3.05, 3.4, 3.8],
  [222, 1.7, 1.9, 2.15, 2.4],
  [222, 2.8, 3.1, 3.5, 4.0],
  [228, 2.1, 2.4, 2.8],
  [228, 3.1, 3.5, 4.0],
  [180, 2.4, 2.5, 2.7, 2.9, 3.1, 3.4, 3.7, 4.1, 4.5],
  [186, 2.7, 2.9, 3.1, 3.3, 3.6, 3.9, 4.2, 4.6, 4.9],
  [192, 1.55, 1.7, 1.85, 2.05, 2.3, 2.55, 2.85, 3.2, 3.5],
  [198, 2.8, 3.0, 3.2, 3.5, 3.8, 4.1, 4.4, 4.9],
  [204, 2.0, 2.15, 2.3, 2.5, 2.75, 3.0, 3.3],
  [210, 2.9, 3.1, 3.4, 3.7, 4.1, 4.5],
  [216, 2.2, 2.4, 2.6, 2.9, 3.2],
  [222, 2.4, 2.6, 2.9, 3.2],
  [234, 2.2, 2.6],
  [174, 2.0, 2.1, 2.3, 2.5, 2.8, 3.1, 3.5],
  [180, 1.65, 1.8, 1.95, 2.15, 2.4, 2.7, 3.0, 3.4],
  [228, 1.7, 1.9, 2.2],
  [210, 3.3, 3.5, 3.8, 4.1, 4.4, 4.8],
  [192, 3.0, 3.2, 3.4, 3.7, 4.0, 4.3, 4.6],
  [180, 2.1, 2.25, 2.5, 2.8, 3.1, 3.5, 3.9],
  [186, 1.9, 2.05, 2.3, 2.55, 2.9, 3.3, 3.7],
  [186, 2.45, 2.6, 2.85, 3.15, 3.5, 3.95, 4.4],
  [192, 1.75, 1.9, 2.1, 2.4, 2.7, 3.05, 3.45],
  [192, 2.25, 2.4, 2.65, 2.95, 3.3, 3.7, 4.15],
  [198, 2.0, 2.15, 2.4, 2.7, 3.0, 3.4, 3.85, 4.3],
  [198, 1.6, 1.75, 1.95, 2.2, 2.5, 2.8, 3.15],
  [204, 2.3, 2.45, 2.7, 3.0, 3.35, 3.75, 4.2],
  [204, 1.75, 1.9, 2.1, 2.35, 2.65, 3.0, 3.4],
  [210, 2.0, 2.15, 2.4, 2.7, 3.05, 3.45],
  [210, 2.5, 2.7, 3.0, 3.35, 3.75, 4.2],
  [210, 1.7, 1.85, 2.05, 2.3, 2.6, 2.95],
  [216, 2.1, 2.3, 2.55, 2.9, 3.3],
  [216, 2.8, 3.0, 3.3, 3.7, 4.15],
  [216, 1.65, 1.8, 2.0, 2.25, 2.55],
  [222, 2.0, 2.2, 2.5, 2.85],
  [222, 2.6, 2.85, 3.2, 3.6],
  [222, 3.0, 3.3, 3.7, 4.2],
  [228, 1.9, 2.2, 2.55],
  [228, 2.4, 2.75, 3.15],
  [234, 2.0, 2.35],
  [234, 2.9, 3.4],
  [204, 3.0, 3.2, 3.5, 3.85, 4.25, 4.7, 5.0],
  [198, 3.2, 3.4, 3.7, 4.0, 4.35, 4.7, 4.95, 4.8],
  [180, 2.7, 2.85, 3.1, 3.4, 3.75, 4.15, 4.55],
  [216, 3.4, 3.6, 3.9, 4.25, 4.6],
  [174, 1.7, 1.8, 2.0, 2.25, 2.55, 2.9, 3.3, 3.75],
  [180, 2.2, 2.35, 2.6, 2.9, 3.25, 3.65, 4.1],
  [180, 1.55, 1.65, 1.85, 2.1, 2.35, 2.65, 3.0],
  [186, 2.1, 2.2, 2.45, 2.75, 3.05, 3.45, 3.85],
  [186, 3.0, 3.15, 3.4, 3.7, 4.05, 4.45],
  [192, 1.9, 2.05, 2.25, 2.5, 2.8, 3.15, 3.55, 3.95],
  [192, 2.6, 2.75, 3.0, 3.3, 3.65, 4.05, 4.5],
  [198, 1.85, 2.0, 2.2, 2.45, 2.75, 3.1, 3.5],
  [198, 2.5, 2.65, 2.9, 3.2, 3.55, 3.95, 4.4, 4.7],
  [204, 2.15, 2.3, 2.55, 2.85, 3.2, 3.6, 4.0],
  [204, 1.6, 1.7, 1.9, 2.1, 2.4, 2.7, 3.0],
  [210, 2.35, 2.5, 2.75, 3.05, 3.4, 3.8],
  [210, 1.85, 2.0, 2.2, 2.45, 2.75, 3.1],
  [216, 2.3, 2.45, 2.7, 3.0, 3.4],
  [216, 3.0, 3.2, 3.5, 3.9, 4.35],
  [222, 2.2, 2.4, 2.7, 3.05],
  [222, 3.4, 3.65, 4.0, 4.4],
  [228, 2.8, 3.15, 3.6],
  [228, 1.8, 2.05, 2.35],
  [234, 3.3, 3.8],
  [234, 1.7, 2.0],
  [186, 1.75, 1.85, 2.05, 2.3, 2.6, 2.95, 3.35, 3.75],
  [198, 2.15, 2.3, 2.5, 2.8, 3.1, 3.45, 3.9],
  [204, 1.8, 1.95, 2.2, 2.5, 2.85, 3.2, 3.6],
  [210, 2.6, 2.8, 3.1, 3.45, 3.85, 4.3],
  [216, 1.95, 2.15, 2.4, 2.75, 3.1],
  [222, 2.3, 2.5, 2.8, 3.15],
];
const ctlDiv6: number[][] = [
  [216, 1.8, 2.0, 2.2, 2.5, 2.8],
  [216, 2.3, 2.5, 2.7, 3.0, 3.4],
  [222, 1.65, 1.8, 2.0, 2.2],
  [222, 2.6, 2.8, 3.1, 3.5],
  [228, 1.9, 2.2, 2.5],
  [228, 2.4, 2.7, 3.1],
  [216, 2.0, 2.15, 2.4, 2.7, 3.0],
  [222, 2.1, 2.3, 2.6, 2.9],
  [234, 1.8, 2.1],
  [234, 2.6, 3.0],
  [216, 2.7, 2.9, 3.1, 3.2, 3.45],
  [222, 1.7, 1.75, 1.9, 2.05],
  [216, 1.7, 1.85, 2.05, 2.3, 2.6],
  [216, 2.5, 2.65, 2.9, 3.2, 3.55],
  [222, 1.9, 2.1, 2.35, 2.65],
  [222, 2.35, 2.55, 2.8, 3.1],
  [228, 1.75, 2.0, 2.3],
  [228, 2.7, 2.95, 3.3],
  [234, 2.2, 2.5],
  [216, 2.2, 2.35, 2.6, 2.85, 3.15],
  [222, 2.9, 3.1, 3.3, 3.6],
  [228, 2.1, 2.35, 2.65],
  [216, 1.9, 2.05, 2.25, 2.5, 2.8],
  [216, 2.4, 2.6, 2.85, 3.15, 3.5],
  [222, 1.8, 2.0, 2.25, 2.5],
  [222, 2.5, 2.7, 3.0, 3.35],
  [228, 2.0, 2.3, 2.6],
  [228, 2.9, 3.2, 3.55],
  [234, 1.9, 2.25],
  [234, 2.4, 2.8],
  [216, 1.65, 1.75, 1.95, 2.15, 2.4],
  [222, 3.0, 3.2, 3.45, 3.65],
  [210, 1.75, 1.9, 2.1, 2.35, 2.6, 2.9],
  [210, 2.3, 2.45, 2.65, 2.9, 3.2, 3.5],
  [216, 2.1, 2.25, 2.5, 2.75, 3.05],
  [216, 2.85, 3.0, 3.2, 3.4, 3.6],
  [222, 1.6, 1.7, 1.85, 2.1],
  [222, 2.2, 2.45, 2.75, 3.05],
  [222, 2.75, 2.95, 3.2, 3.5],
  [228, 1.65, 1.85, 2.1],
  [228, 2.25, 2.5, 2.85],
  [228, 3.05, 3.3, 3.6],
  [234, 2.05, 2.4],
  [234, 2.9, 3.3],
  [210, 2.05, 2.2, 2.4, 2.6, 2.85, 3.1],
  [216, 1.8, 1.9, 2.1, 2.35, 2.7],
  [222, 2.0, 2.15, 2.4, 2.7],
  [228, 2.55, 2.8, 3.05],
];

const cdiTracks = [cdiDiv0, cdiDiv1, cdiDiv2, cdiDiv3, cdiDiv4, cdiDiv5, cdiDiv6];
const ctlTracks = [ctlDiv0, ctlDiv1, ctlDiv2, ctlDiv3, ctlDiv4, ctlDiv5, ctlDiv6];

function buildDatasets(groups: number[][][]) {
  const out: any[] = [];
  groups.forEach((tracks, d) => {
    tracks.forEach((tr) => {
      const t0 = tr[0];
      out.push({
        data: tr.slice(1).map((v, i) => ({ x: t0 + i * STEP, y: v })),
        borderColor: COLORS[d],
        borderWidth: 1.6,
        borderJoinStyle: "round",
        pointRadius: 0,
        fill: false,
        tension: 0,
      });
    });
  });
  return out;
}

type PanelProps = {
  groups: number[][][];
  canvasWidth: number;
  yAxisWidth: number;
  padRight: number;
  showYLabels: boolean;
};

function Panel({ groups, canvasWidth, yAxisWidth, padRight, showYLabels }: PanelProps) {
  const ref = useRef<HTMLCanvasElement | null>(null);
  useEffect(() => {
    if (!ref.current) return;
    const grid = {
      color: "#EBEBEB",
      lineWidth: 1.2,
      tickColor: "#333333",
      tickLength: 5,
      tickWidth: 1.2,
      drawTicks: true,
    };
    const chart = new Chart(ref.current, {
      type: "line",
      data: { datasets: buildDatasets(groups) },
      options: {
        animation: false,
        responsive: false,
        maintainAspectRatio: false,
        events: [],
        layout: { padding: { left: 0, right: padRight, top: 54.3, bottom: 0 } },
        plugins: { legend: { display: false }, tooltip: { enabled: false }, title: { display: false } },
        scales: {
          x: {
            type: "linear",
            min: X_MIN,
            max: X_MAX,
            afterBuildTicks: (s: any) => {
              s.ticks = X_TICKS.map((v) => ({ value: v }));
            },
            afterFit: (s: any) => {
              s.height = 84.7;
              s.paddingLeft = 0;
              s.paddingRight = 0;
            },
            grid,
            border: { display: true, color: "#000", width: 1.6 },
            ticks: { font: { family: FONT, size: 26 }, color: "#000", padding: 7, maxRotation: 0, autoSkip: false },
          },
          y: {
            type: "linear",
            min: Y_MIN,
            max: Y_MAX,
            afterBuildTicks: (s: any) => {
              s.ticks = Y_TICKS.map((v) => ({ value: v }));
            },
            afterFit: (s: any) => {
              s.width = yAxisWidth;
              s.paddingTop = 0;
              s.paddingBottom = 0;
            },
            grid,
            border: { display: true, color: "#000", width: 1.6 },
            ticks: {
              font: { family: FONT, size: 26 },
              color: showYLabels ? "#000" : "rgba(0,0,0,0)",
              padding: 6,
              autoSkip: false,
            },
          },
        },
      },
    } as any);
    return () => chart.destroy();
  }, []);
  return <canvas ref={ref} width={canvasWidth} height={567} style={{ width: canvasWidth, height: 567, display: "block" }} />;
}

export default function App() {
  const text = (extra: React.CSSProperties): React.CSSProperties => ({
    position: "absolute",
    fontFamily: FONT,
    color: "#000",
    whiteSpace: "nowrap",
    ...extra,
  });
  return (
    <div style={{ position: "absolute", left: 0, top: 0, width: 1036, height: 567, background: "#fff", overflow: "hidden" }}>
      <div style={{ position: "absolute", left: 0, top: 0, width: 462.3, height: 567, overflow: "hidden" }}>
        <Panel groups={cdiTracks} canvasWidth={530} yAxisWidth={92} padRight={57.3} showYLabels={true} />
      </div>
      <div style={{ position: "absolute", left: 462.3, top: 0, width: 400, height: 567, background: "#fff" }}>
        <Panel groups={ctlTracks} canvasWidth={400} yAxisWidth={8.7} padRight={10.6} showYLabels={false} />
      </div>
      <div style={text({ left: 282.4 - 150, top: 9, width: 300, textAlign: "center", fontSize: 36, lineHeight: "36px" })}>{PANELS[0]}</div>
      <div style={text({ left: 661.4 - 150, top: 9, width: 300, textAlign: "center", fontSize: 36, lineHeight: "36px" })}>{PANELS[1]}</div>
      <div style={text({ left: 466 - 200, top: 527, width: 400, textAlign: "center", fontSize: 37, lineHeight: "37px" })}>Time (minutes)</div>
      <div
        style={text({
          left: 27.5 - 150,
          top: 269 - 18.5,
          width: 300,
          textAlign: "center",
          fontSize: 37,
          lineHeight: "37px",
          transform: "rotate(-90deg)",
          transformOrigin: "50% 50%",
        })}
      >
        Length (<span style={{ fontStyle: "italic" }}>μ</span>m)
      </div>
      <div style={text({ left: 885, top: 130, fontSize: 36.5, lineHeight: "36.5px" })}>Divisions</div>
      {DIVISIONS.map((d, i) => {
        const cy = Math.round(197.3 + i * 32.1);
        return (
          <React.Fragment key={d}>
            <div style={{ position: "absolute", left: 887, top: cy - 1, width: 26, height: 2, background: COLORS[i] }} />
            <div style={text({ left: 934, top: cy - 10, fontSize: 26, lineHeight: "26px" })}>{d}</div>
          </React.Fragment>
        );
      })}
    </div>
  );
}
